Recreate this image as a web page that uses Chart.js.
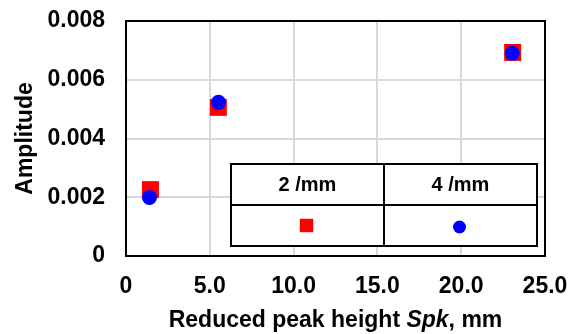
<!DOCTYPE html>
<html>
<head>
<meta charset="utf-8">
<script src="https://cdn.jsdelivr.net/npm/chart.js@4/dist/chart.umd.min.js"></script>
<style>
  html, body { margin: 0; padding: 0; background: #fff; }
  #wrap { width: 578px; height: 334px; }
</style>
</head>
<body>
<div id="wrap"><canvas id="chart" width="578" height="334"></canvas></div>
<script>
const seriesNames = ["2 /mm", "4 /mm"];
const spk2 = [1.46, 5.51, 23.07];
const amp2 = [0.00226, 0.00506, 0.00693];
const spk4 = [1.40, 5.52, 23.04];
const amp4 = [0.00199, 0.00523, 0.0069];
const xTickLabels = ["0", "5.0", "10.0", "15.0", "20.0", "25.0"];
const yTickLabels = ["0", "0.002", "0.004", "0.006", "0.008"];

const FONT = "'Liberation Sans', Arial, sans-serif";

function toPoints(xs, ys) {
    return xs.map((x, i) => ({ x: x, y: ys[i] }));
}

// plot frame + table legend + italic x title
const decorations = {
    id: "decorations",
    beforeDatasetsDraw(chart) {
        const ctx = chart.ctx;
        const a = chart.chartArea;
        ctx.save();
        ctx.strokeStyle = "#000";
        ctx.lineWidth = 2;
        ctx.strokeRect(a.left, a.top, a.right - a.left, a.bottom - a.top);
        ctx.restore();
    },
    afterDatasetsDraw(chart) {
        const ctx = chart.ctx;
        const a = chart.chartArea;
        ctx.save();

        // legend table
        const L = 231, T = 164, R = 537, B = 246, MID = 205, COL = 384;
        ctx.fillStyle = "#fff";
        ctx.fillRect(L, T, R - L, B - T);
        ctx.strokeStyle = "#000";
        ctx.lineWidth = 2;
        ctx.strokeRect(L, T, R - L, B - T);
        ctx.beginPath();
        ctx.moveTo(L, MID); ctx.lineTo(R, MID);
        ctx.moveTo(COL, T); ctx.lineTo(COL, B);
        ctx.stroke();

        ctx.fillStyle = "#000";
        ctx.font = "bold 20px " + FONT;
        ctx.textAlign = "center";
        ctx.textBaseline = "middle";
        const centers = [(L + COL) / 2, (COL + R) / 2];
        chart.data.datasets.forEach((ds, i) => {
            ctx.fillStyle = "#000";
            ctx.fillText(ds.label, centers[i], (T + MID) / 2 + 1);
            ctx.fillStyle = ds.backgroundColor;
            Chart.helpers.drawPoint(ctx, {
                pointStyle: ds.pointStyle,
                radius: ds.pointStyle === "rect" ? 9.5 : 6.5,
                borderWidth: 0
            }, centers[i] - 1, (MID + B) / 2 + (ds.pointStyle === "rect" ? 0 : 1.5));
        });

        // x axis title with italic Spk
        const parts = [
            ["Reduced peak height ", "bold 23px " + FONT],
            ["Spk", "italic bold 23px " + FONT],
            [", mm", "bold 23px " + FONT]
        ];
        let total = 0;
        parts.forEach(p => { ctx.font = p[1]; total += ctx.measureText(p[0]).width; });
        let x = (a.left + a.right) / 2 - total / 2;
        ctx.fillStyle = "#000";
        ctx.textAlign = "left";
        ctx.textBaseline = "alphabetic";
        parts.forEach(p => {
            ctx.font = p[1];
            ctx.fillText(p[0], x, 327);
            x += ctx.measureText(p[0]).width;
        });

        // y axis title
        ctx.translate(32, (a.top + a.bottom) / 2);
        ctx.rotate(-Math.PI / 2);
        ctx.font = "bold 23px " + FONT;
        ctx.textAlign = "center";
        ctx.fillText("Amplitude", 0, 0);

        ctx.restore();
    }
};

new Chart(document.getElementById("chart"), {
    type: "scatter",
    data: {
        datasets: [{
            label: seriesNames[0],
            data: toPoints(spk2, amp2),
            pointStyle: "rect",
            pointRadius: 12,
            pointHoverRadius: 12,
            pointBorderWidth: 0,
            backgroundColor: "#ff0000",
            borderColor: "#ff0000",
            order: 1
        }, {
            label: seriesNames[1],
            data: toPoints(spk4, amp4),
            pointStyle: "circle",
            pointRadius: 7.5,
            pointHoverRadius: 7.5,
            pointBorderWidth: 0,
            backgroundColor: "#0000ff",
            borderColor: "#0000ff",
            order: 0
        }]
    },
    options: {
        responsive: false,
        animation: false,
        layout: { padding: { top: 21, right: 33, left: 0, bottom: 0 } },
        plugins: {
            legend: { display: false },
            tooltip: { enabled: false }
        },
        scales: {
            x: {
                type: "linear",
                min: 0,
                max: 25,
                afterFit(scale) {
                    scale.height = 78;
                    scale.paddingLeft = 0;
                    scale.paddingRight = 0;
                },
                afterBuildTicks(scale) {
                    scale.ticks = xTickLabels.map((t, i) => ({ value: i * 5 }));
                },
                grid: { color: "#d9d9d9", lineWidth: 2, drawTicks: false },
                border: { display: false },
                ticks: {
                    color: "#000",
                    padding: 17,
                    maxRotation: 0,
                    font: { family: FONT, size: 23, weight: "bold" },
                    callback: (v, i) => xTickLabels[i]
                }
            },
            y: {
                type: "linear",
                min: 0,
                max: 0.008,
                afterFit(scale) {
                    scale.width = 126;
                    scale.paddingTop = 0;
                    scale.paddingBottom = 0;
                },
                afterBuildTicks(scale) {
                    scale.ticks = yTickLabels.map(t => ({ value: parseFloat(t) }));
                },
                grid: { color: "#d9d9d9", lineWidth: 2, drawTicks: false },
                border: { display: false },
                ticks: {
                    color: "#000",
                    padding: 21,
                    font: { family: FONT, size: 23, weight: "bold" },
                    callback: (v, i) => yTickLabels[i]
                }
            }
        }
    },
    plugins: [decorations]
});
</script>
</body>
</html>
